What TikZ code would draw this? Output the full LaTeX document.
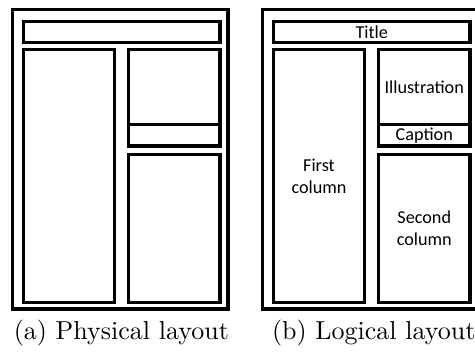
\documentclass[tikz,border=0pt]{standalone}
\usepackage{fontspec}
\newfontfamily\regionfont{Carlito}

\begin{document}
\begin{tikzpicture}[x=0.3846pt,y=-0.3846pt]
        \tikzstyle{page}=[rectangle, draw=black, line width=1.4pt, inner sep=0pt, minimum width=82.88pt, minimum height=115.19pt]
        \tikzstyle{region}=[rectangle, draw=black, line width=1.25pt, inner sep=0pt, align=center, font=\regionfont\fontsize{7}{8.5}\selectfont]
        \tikzstyle{banner}=[region, minimum width=75.57pt, minimum height=8.08pt]
        \tikzstyle{column}=[region, minimum width=35pt, minimum height=97.3pt]
        \tikzstyle{side}=[region, minimum width=35.19pt]
        \tikzstyle{subcap}=[anchor=base west, inner sep=0pt, font=\fontsize{10}{12}\selectfont]
        \useasboundingbox (0,0) rectangle (475,352);
        \clip (0,0) rectangle (475,352);
        % (a) physical layout
        \node[page] (physpage) at (120.25,159.25) {};
        \node[banner] (phystitle) at (121.75,32) {};
        \node[column] (physfirst) at (69,176) {};
        \node[side, minimum height=28.85pt] (physillus) at (174.25,87) {};
        \node[side, minimum height=8.27pt] (physcaption) at (174.25,135.25) {};
        \node[side, minimum height=56.92pt] (physsecond) at (174.25,228.5) {};
        % (b) logical layout
        \node[page] (logpage) at (370.25,159.25) {};
        \node[banner] (logtitle) at (371.75,32) {Title};
        \node[column] (logfirst) at (319,176) {First\\column};
        \node[side, minimum height=28.85pt] (logillus) at (424.25,87) {Illustration};
        \node[side, minimum height=8.27pt] (logcaption) at (424.25,135.25) {Caption};
        \node[side, minimum height=56.92pt] (logsecond) at (424.25,228.5) {Second\\column};
        % sub-captions
        \node[subcap] (physlabel) at (13.3,340) {(a) Physical layout};
        \node[subcap] (loglabel) at (271.5,340) {(b) Logical layout};
    \end{tikzpicture}
\end{document}
